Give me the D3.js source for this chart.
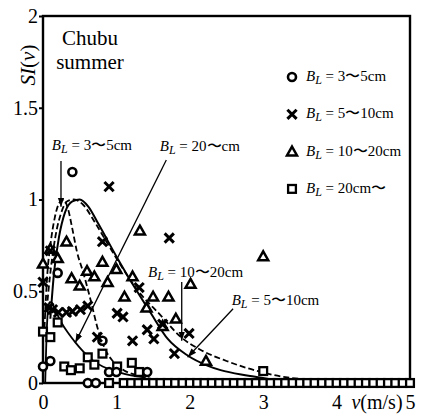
<!DOCTYPE html>
<html><head><meta charset="utf-8">
<script src="https://cdn.jsdelivr.net/npm/d3@7"></script>
<style>body{margin:0;background:#fff}svg{display:block}</style>
</head><body><div id="c"></div>
<script>
// ---- data (v in m/s, SI) ----
const circles = [[0.40,1.15],[0.20,0.60],[0.10,0.12],[0.00,0.09],[0.81,0.23],[0.61,0.00],[0.72,0.00],[0.90,0.06],[1.00,0.06],[1.42,0.06]];
const crosses = [[0.90,1.07],[1.72,0.79],[0.10,0.72],[0.00,0.55],[0.81,0.77],[1.31,0.52],[0.08,0.41],[0.13,0.40],[0.21,0.385],[0.32,0.385],[0.40,0.39],[0.51,0.40],[0.61,0.42],[1.01,0.38],[1.09,0.36],[0.74,0.25],[1.22,0.23],[1.42,0.29],[1.51,0.24],[1.63,0.32],[1.79,0.16],[1.99,0.27]];
const triangles = [[0.00,0.65],[0.10,0.73],[0.20,0.68],[0.32,0.77],[0.39,0.57],[0.50,0.53],[0.60,0.61],[0.70,0.58],[0.81,0.66],[0.88,0.55],[1.00,0.62],[1.32,0.83],[1.11,0.47],[1.22,0.58],[1.41,0.41],[1.50,0.47],[1.71,0.47],[1.63,0.31],[1.81,0.35],[2.01,0.54],[2.22,0.12],[3.00,0.69]];
const squaresScatter = [[0.00,0.28],[0.10,0.25],[0.20,0.33],[0.29,0.09],[0.38,0.07],[0.50,0.08],[0.61,0.14],[0.70,0.10],[0.81,0.16],[1.01,0.09],[1.21,0.11],[1.31,0.06],[3.00,0.065]];
const squaresZeroV = [0.9,1.1,1.2,1.3,1.4,1.5,1.6,1.7,1.8,1.9,2.0,2.1,2.2,2.3,2.4,2.5,2.6,2.7,2.8,2.9,3.0,3.1,3.2,3.3,3.4,3.5,3.6,3.7,3.8,3.9,4.0,4.1,4.2,4.3,4.4,4.5,4.6,4.7,4.8,4.9,5.0];
// fitted curves
const curve3to5 = [[0.02,0.30],[0.06,0.60],[0.10,0.75],[0.16,0.90],[0.22,0.98],[0.28,1.00],[0.34,0.95],[0.40,0.84],[0.46,0.72],[0.55,0.60],[0.65,0.45],[0.75,0.29],[0.85,0.18],[0.95,0.12],[1.10,0.07],[1.30,0.04],[1.50,0.02]];
const curve10to20 = [[0.05,0.40],[0.10,0.60],[0.17,0.80],[0.25,0.93],[0.33,0.99],[0.42,1.00],[0.55,0.97],[0.70,0.88],[0.85,0.78],[1.00,0.68],[1.30,0.50],[1.60,0.37],[1.88,0.25],[2.15,0.18],[2.50,0.12],[2.97,0.06],[3.33,0.03],[3.60,0.02]];
const curve5to10 = [[0.10,0.35],[0.15,0.60],[0.22,0.80],[0.30,0.93],[0.40,0.99],[0.50,1.00],[0.62,0.96],[0.75,0.87],[1.00,0.69],[1.25,0.52],[1.47,0.38],[1.70,0.24],[1.97,0.15],[2.24,0.095],[2.42,0.07],[2.80,0.04],[3.10,0.02],[3.40,0.01]];
const curve20 = [[0.03,0.00],[0.05,0.30],[0.07,0.43],[0.10,0.45],[0.16,0.41],[0.24,0.33],[0.33,0.28],[0.44,0.22],[0.55,0.17],[0.68,0.12],[0.80,0.09],[1.00,0.06],[1.20,0.04],[1.40,0.03]];
const xTicks = [0,1,2,3,4,5];
const yTicks = [0,0.5,1,1.5,2];
const yTickLabels = ["0","0.5","1","1.5","2"];
const legendLabels = ["3\u301C5cm","5\u301C10cm","10\u301C20cm","20cm\u301C"];
// annotations: label text, label anchor (v,SI), arrow from, arrow to
const annLabels = ["3\u301C5cm","20\u301Ccm","10\u301C20cm","5\u301C10cm"];
const annText = [[0.12,1.27],[1.59,1.264],[1.43,0.578],[2.57,0.425]];
const annFrom = [[0.245,1.21],[1.68,1.215],[1.89,0.55],[2.59,0.405]];
const annTo = [[0.245,0.96],[0.44,0.22],[1.89,0.23],[1.97,0.14]];

const FONT = "'Liberation Serif', 'Times New Roman', Tinos, 'DejaVu Serif', serif";
const W=421,H=414;
const svg=d3.select("#c").append("svg").attr("width",W).attr("height",H)
  .attr("font-family",FONT).style("font-family",FONT);
const x=d3.scaleLinear().domain([0,5]).range([43,410]);
const y=d3.scaleLinear().domain([0,2]).range([383,16]);

const defs=svg.append("defs");
defs.append("marker").attr("id","ah").attr("viewBox","0 0 10 10").attr("refX",10).attr("refY",5)
 .attr("markerWidth",7).attr("markerHeight",7).attr("orient","auto")
 .append("path").attr("d","M0,1.5L10,5L0,8.5Z").attr("fill","#000");

// frame
svg.append("rect").attr("x",x(0)).attr("y",y(2)).attr("width",x(5)-x(0)).attr("height",y(0)-y(2))
 .attr("fill","none").attr("stroke","#000").attr("stroke-width",2.4);

// axes
const yAx=svg.append("g").attr("transform",`translate(${x(0)},0)`)
 .call(d3.axisLeft(y).tickValues(yTicks).tickSize(4).tickPadding(1).tickFormat((d,i)=>yTickLabels[i]));
yAx.attr("font-family",null);
yAx.select(".domain").remove();
yAx.selectAll("line").attr("stroke-width",2);
yAx.selectAll("text").style("font-size","20px").style("font-family",FONT);
const xAx=svg.append("g").attr("transform",`translate(0,${y(0)})`)
 .call(d3.axisBottom(x).tickValues(xTicks).tickSize(0).tickPadding(12).tickFormat(d3.format("d")));
xAx.attr("font-family",null);
xAx.select(".domain").remove();
xAx.selectAll("text").style("font-size","20px").style("font-family",FONT);

// curves
const line=d3.line().x(d=>x(d[0])).y(d=>y(d[1])).curve(d3.curveMonotoneX);
const cg=svg.append("g").attr("fill","none").attr("stroke","#000");
cg.append("path").attr("d",line(curve3to5)).attr("stroke-width",1.8).attr("stroke-dasharray","6,3");
cg.append("path").attr("d",line(curve10to20)).attr("stroke-width",1.8).attr("stroke-dasharray","6,3");
cg.append("path").attr("d",line(curve5to10)).attr("stroke-width",2);
cg.append("path").attr("d",d3.line().x(d=>x(d[0])).y(d=>y(d[1])).curve(d3.curveBasis)(curve20)).attr("stroke-width",1.8);

// annotation arrows
annFrom.forEach((f,i)=>{
 svg.append("line").attr("x1",x(f[0])).attr("y1",y(f[1])).attr("x2",x(annTo[i][0])).attr("y2",y(annTo[i][1]))
  .attr("stroke","#000").attr("stroke-width",1.3).attr("marker-end","url(#ah)");
});

// markers
const mk=svg.append("g");
function drawCircle(g,cx,cy){g.append("circle").attr("cx",cx).attr("cy",cy).attr("r",4).attr("fill","#fff").attr("stroke","#000").attr("stroke-width",2.6);}
function drawSquare(g,cx,cy){g.append("rect").attr("x",cx-3.9).attr("y",cy-3.9).attr("width",7.8).attr("height",7.8).attr("fill","#fff").attr("stroke","#000").attr("stroke-width",2.3);}
function drawTri(g,cx,cy){g.append("path").attr("d",`M${cx},${cy-5}L${cx+5},${cy+3.8}L${cx-5},${cy+3.8}Z`).attr("fill","#fff").attr("stroke","#000").attr("stroke-width",2.5).attr("stroke-linejoin","miter");}
function drawX(g,cx,cy){const s=4.6;g.append("path").attr("d",`M${cx-s},${cy-s}L${cx+s},${cy+s}M${cx+s},${cy-s}L${cx-s},${cy+s}`).attr("stroke","#000").attr("stroke-width",3);}
squaresZeroV.forEach(v=>drawSquare(mk,x(v),y(0)));
squaresScatter.forEach(d=>drawSquare(mk,x(d[0]),y(d[1])));
triangles.forEach(d=>drawTri(mk,x(d[0]),y(d[1])));
circles.forEach(d=>drawCircle(mk,x(d[0]),y(d[1])));
crosses.forEach(d=>drawX(mk,x(d[0]),y(d[1])));

// BL label helper
function blText(g,tx,ty,rest,size){
 const t=g.append("text").attr("x",tx).attr("y",ty).style("font-size",size+"px").style("font-family",FONT);
 t.append("tspan").attr("font-style","italic").text("B");
 t.append("tspan").attr("font-style","italic").attr("dy",3).style("font-size",(size*0.8)+"px").text("L");
 t.append("tspan").attr("dy",-3).text(" = ");
 t.append("tspan").text(rest);
 return t;
}
annLabels.forEach((s,i)=>blText(svg,x(annText[i][0]),y(annText[i][1]),s,15));

// legend
const lg=svg.append("g");
const lx=292, ly0=77, ldy=37.3;
legendLabels.forEach((s,i)=>{
 const cy=ly0+i*ldy;
 [drawCircle,drawX,drawTri,drawSquare][i](lg,lx,cy);
 blText(lg,306,cy+4,s,15);
});

// titles
svg.append("text").attr("x",90).attr("y",45).attr("text-anchor","middle").style("font-size","21px").style("font-family",FONT).text("Chubu");
svg.append("text").attr("x",90).attr("y",69).attr("text-anchor","middle").style("font-size","21px").style("font-family",FONT).text("summer");
const yl=svg.append("text").attr("transform","translate(35,65) rotate(-90)").attr("text-anchor","middle").style("font-size","21px").style("font-family",FONT);
yl.append("tspan").attr("font-style","italic").text("SI");
yl.append("tspan").text("(");
yl.append("tspan").attr("font-style","italic").text("v");
yl.append("tspan").text(")");
const xl=svg.append("text").attr("x",377).attr("y",409).attr("text-anchor","middle").style("font-size","20px").style("font-family",FONT);
xl.append("tspan").attr("font-style","italic").text("v");
xl.append("tspan").text("(m/s)");
</script></body></html>
